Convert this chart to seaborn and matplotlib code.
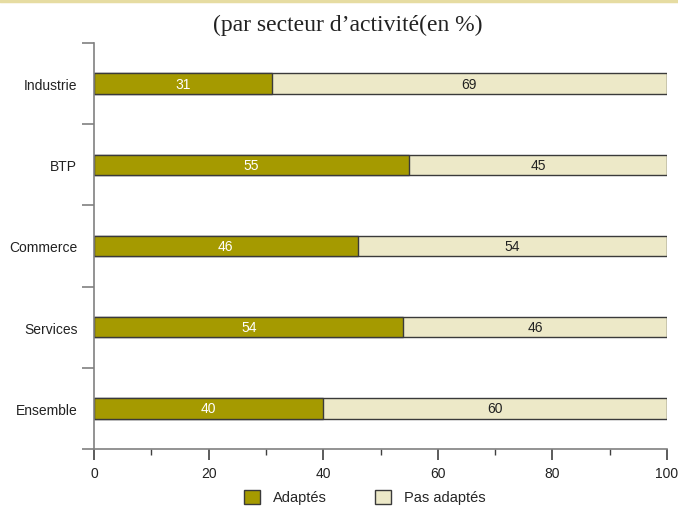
import matplotlib
matplotlib.use("Agg")
import matplotlib.pyplot as plt
import seaborn as sns
import pandas as pd
from matplotlib.patches import Patch
from matplotlib.ticker import MultipleLocator
from matplotlib.lines import Line2D

categories = ["Industrie", "BTP", "Commerce", "Services", "Ensemble"]
adaptes = [31, 55, 46, 54, 40]
pas_adaptes = [69, 45, 54, 46, 60]
title = "(par secteur d\u2019activit\u00e9(en %)"
series_names = ["Adapt\u00e9s", "Pas adapt\u00e9s"]

col_a = "#A59A00"
col_b = "#EDE9C8"
edge = "#3a3a3a"

sns.set_style("white")
plt.rcParams["font.family"] = ["Liberation Sans", "DejaVu Sans"]

df = pd.DataFrame({"cat": categories, "a": adaptes, "b": pas_adaptes})
df["total"] = df["a"] + df["b"]

fig = plt.figure(figsize=(6.78, 5.10), dpi=100)
ax = fig.add_axes([94/678, 1-450/510, (667-94)/678, (450-44)/510])

sns.barplot(data=df, y="cat", x="total", orient="h", color=col_b, width=0.25,
            edgecolor=edge, linewidth=1.0, ax=ax, saturation=1)
sns.barplot(data=df, y="cat", x="a", orient="h", color=col_a, width=0.25,
            edgecolor=edge, linewidth=1.0, ax=ax, saturation=1)

fs = 10
for i, (a, b) in enumerate(zip(adaptes, pas_adaptes)):
    ax.text(a/2, i, str(a), ha="center", va="center", color="white", fontsize=fs)
    ax.text(a + b/2, i, str(b), ha="center", va="center", color="#222222", fontsize=fs)

ax.set_xlim(0, 100)
ax.set_ylim(len(categories)-0.5, -0.5)
ax.set_xlabel("")
ax.set_ylabel("")
ax.xaxis.set_major_locator(MultipleLocator(20))
ax.xaxis.set_minor_locator(MultipleLocator(10))
ax.set_yticks(range(len(categories)))
ax.set_yticklabels(categories)
ax.set_yticks([i - 0.5 for i in range(len(categories)+1)], minor=True)

for s in ["top", "right"]:
    ax.spines[s].set_visible(False)
for s in ["left", "bottom"]:
    ax.spines[s].set_color("#808080")
    ax.spines[s].set_linewidth(1.2)

ax.tick_params(axis="y", which="major", length=0, pad=12, labelsize=fs, labelcolor="#222222")
ax.tick_params(axis="y", which="minor", length=9, width=1.2, color="#808080", left=True)
ax.tick_params(axis="x", which="major", length=8, width=1.2, color="#404040", bottom=True,
               labelsize=fs, labelcolor="#222222", pad=4)
ax.tick_params(axis="x", which="minor", length=4, width=1.0, color="#404040", bottom=True)

fig.text(348/678, 1-25/510, title, ha="center", va="center",
         fontsize=17, family=["Liberation Serif", "DejaVu Serif"], color="#222222")

# top decorative line
fig.add_artist(Line2D([0, 1], [1-1.5/510, 1-1.5/510], color="#E6DCA2", linewidth=2.5,
                      transform=fig.transFigure))

handles = [Patch(facecolor=col_a, edgecolor=edge, label=series_names[0]),
           Patch(facecolor=col_b, edgecolor=edge, label=series_names[1])]
fig.legend(handles=handles, loc="center", bbox_to_anchor=(365/678, 1-498/510), ncol=2,
           frameon=False, fontsize=10.5, handlelength=1.1, handleheight=1.1,
           columnspacing=3.3, handletextpad=0.9)

fig.savefig("out.png", dpi=100)
